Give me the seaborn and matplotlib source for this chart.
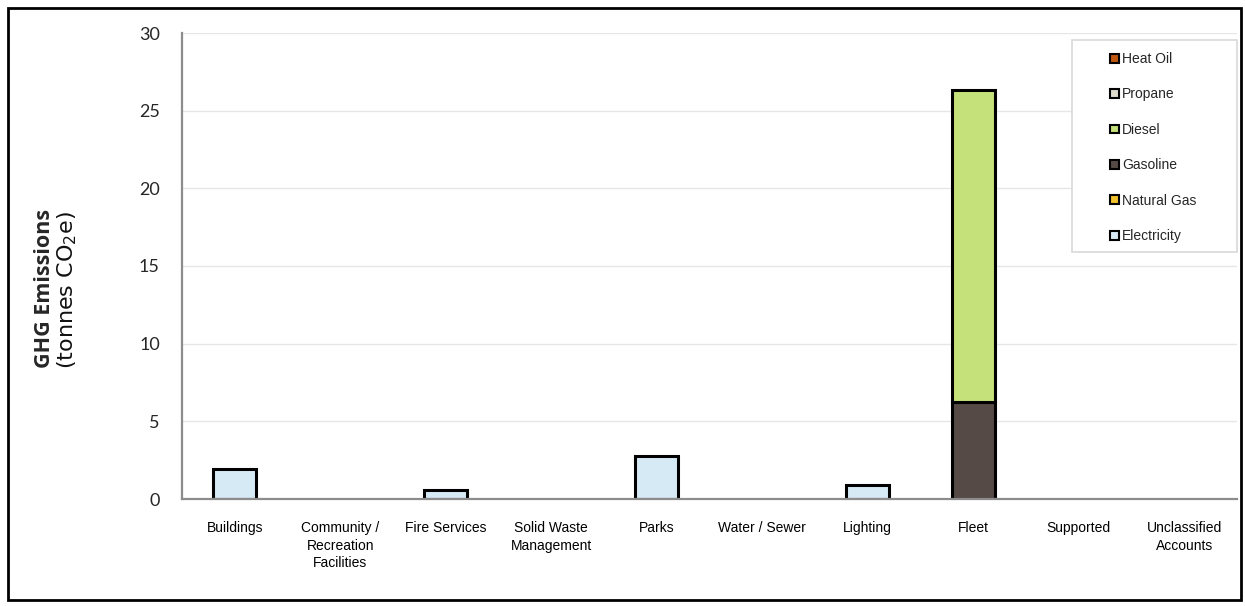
import matplotlib
matplotlib.use("Agg")
import matplotlib.pyplot as plt
from matplotlib.patches import Rectangle, Patch
import seaborn as sns
import pandas as pd
import numpy as np

categories = ["Buildings", "Community /\nRecreation\nFacilities", "Fire Services",
              "Solid Waste\nManagement", "Parks", "Water / Sewer", "Lighting",
              "Fleet", "Supported", "Unclassified\nAccounts"]
electricity = [1.93, 0, 0.56, 0, 2.75, 0, 0.90, 0, 0, 0]
natural_gas = [0, 0, 0, 0, 0, 0, 0, 0, 0, 0]
gasoline = [0, 0, 0, 0, 0, 0, 0, 6.24, 0, 0]
diesel = [0, 0, 0, 0, 0, 0, 0, 20.06, 0, 0]
propane = [0, 0, 0, 0, 0, 0, 0, 0, 0, 0]
heat_oil = [0, 0, 0, 0, 0, 0, 0, 0, 0, 0]

fuels = ["Electricity", "Natural Gas", "Gasoline", "Diesel", "Propane", "Heat Oil"]
series = [electricity, natural_gas, gasoline, diesel, propane, heat_oil]
colors = ["#D6EAF5", "#F2C12E", "#554A45", "#C5E17A", "#DEDCCD", "#C0570F"]

sns.set_theme(style="white")
plt.rcParams['font.family'] = ['Liberation Sans', 'DejaVu Sans']
plt.rcParams['mathtext.default'] = 'regular'

fig = plt.figure(figsize=(12.45, 6.06), dpi=100)
ax = fig.add_axes([182/1245, 1-499/606, 1055/1245, 466/606])

bottom = np.zeros(len(categories))
for fuel, vals, col in zip(fuels, series, colors):
    df = pd.DataFrame({"cat": categories, "val": vals})
    sns.barplot(data=df, x="cat", y="val", order=categories, color=col,
                bottom=bottom, width=0.41, edgecolor="black", linewidth=2.2,
                saturation=1, ax=ax, zorder=2)
    bottom = bottom + np.array(vals)

for p in ax.patches:
    if p.get_height() == 0:
        p.set_linewidth(0)
        p.set_visible(False)

ax.set_ylim(0, 30)
ax.set_xlim(-0.5, len(categories) - 0.5)
ax.set_yticks([0, 5, 10, 15, 20, 25, 30])
ax.yaxis.grid(True, color="#E6E6E6", linewidth=1, zorder=0)
ax.set_axisbelow(True)
for s in ["top", "right"]:
    ax.spines[s].set_visible(False)
for s in ["left", "bottom"]:
    ax.spines[s].set_color("#8C8C8C")
    ax.spines[s].set_linewidth(1.6)
    ax.spines[s].set_zorder(3)

ax.set_xticks(np.arange(len(categories)))
ax.set_xticklabels(categories, fontsize=10, linespacing=1.3, color="black")
ax.tick_params(axis="x", which="major", length=0, pad=16)
ax.set_xticks(np.arange(len(categories) + 1) - 0.5, minor=True)
ax.tick_params(axis="x", which="minor", length=5, width=1.2, color="#8C8C8C", direction="out")
ax.tick_params(axis="y", length=5, width=1.2, color="#8C8C8C", direction="out", pad=11)
for lbl in ax.get_yticklabels():
    lbl.set_fontfamily(['Lato', 'DejaVu Sans'])
    lbl.set_fontsize(13)
ax.set_xlabel("")
ax.set_ylabel("")

fig.text(45/1245, 1-288/606, "GHG Emissions", rotation=90, fontsize=15.5,
         fontweight="bold", ha="center", va="center",
         family=['Open Sans', 'DejaVu Sans'])
fig.text(67/1245, 1-290/606, "(tonnes CO$_2$e)", rotation=90, fontsize=16,
         ha="center", va="center", family=['DejaVu Sans'], fontweight="normal",
         color="#111111")

# legend frame
ax.add_patch(Rectangle((0.8436, 0.530), 0.1564, 0.455, transform=ax.transAxes,
                       facecolor="white", edgecolor="#D9D9D9", linewidth=1.2,
                       zorder=4, clip_on=False))
handles = [Patch(facecolor=c, edgecolor="black", linewidth=1.5, label=f)
           for f, c in zip(fuels, colors)][::-1]
leg = ax.legend(handles=handles, loc="upper left", bbox_to_anchor=(0.8800, 0.959),
                frameon=False, fontsize=10, labelspacing=1.54, handlelength=0.6,
                handleheight=0.6, handletextpad=0.25, borderpad=0, borderaxespad=0)
leg.set_zorder(5)

fig.patches.append(Rectangle((8/1245, 6/606), 1233/1245, 592/606,
                             transform=fig.transFigure, fill=False,
                             edgecolor="black", linewidth=2))

fig.savefig("out.png", dpi=100, facecolor="white")
